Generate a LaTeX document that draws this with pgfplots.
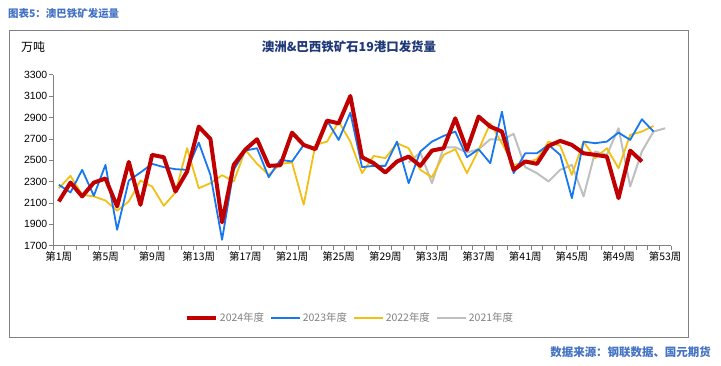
\documentclass[border=0pt]{standalone}
\usepackage{fontspec}
\setmainfont{Liberation Sans}
\newfontfamily\cjk{Noto Sans CJK SC}
\usepackage{pgfplots}
\pgfplotsset{compat=1.18}
\definecolor{c24}{RGB}{192,0,0}
\definecolor{c23}{RGB}{23,119,240}
\definecolor{c22}{RGB}{242,192,20}
\definecolor{c21}{RGB}{191,191,191}
\definecolor{ttl}{RGB}{68,114,196}
\definecolor{navy}{RGB}{31,56,120}
\definecolor{axgray}{RGB}{128,128,128}
\begin{document}
\begin{tikzpicture}
\path[use as bounding box] (0,0) rectangle (721bp,-366bp);
\draw[axgray, line width=1bp] (9bp,-30bp) rectangle (688bp,-337bp);
\node[anchor=west, text=ttl, font=\cjk\bfseries\fontsize{10.5}{12}\selectfont, inner sep=0] at (8bp,-14bp) {图表5：澳巴铁矿发运量};
\node[anchor=west, text=black, font=\cjk\fontsize{12}{14}\selectfont, inner sep=0] at (21bp,-47bp) {万吨};
\node[anchor=center, text=navy, font=\cjk\bfseries\fontsize{12.5}{14}\selectfont, inner sep=0] at (349bp,-47bp) {澳洲\&巴西铁矿石19港口发货量};
\node[anchor=east, text=ttl, font=\cjk\bfseries\fontsize{11.5}{13}\selectfont, inner sep=0] at (711bp,-352bp) {数据来源：钢联数据、国元期货};
\begin{axis}[
  at={(53bp,-245.7bp)}, anchor=south west,
  scale only axis, width=618bp, height=171bp,
  xmin=0.5, xmax=53.5, ymin=1700, ymax=3300,
  axis x line=bottom, axis y line=left,
  axis line style={-, axgray, line width=0.8bp},
  tick align=outside,
  major tick length=4bp, minor tick length=4bp,
  ytick={1700,1900,...,3300},
  xtick={1,5,...,53},
  xticklabels={第1周,第5周,第9周,第13周,第17周,第21周,第25周,第29周,第33周,第37周,第41周,第45周,第49周,第53周},
  minor xtick={0.5,1.5,...,53.5},
  major x tick style={draw=none},
  minor x tick style={axgray, line width=0.6bp},
  major y tick style={axgray, line width=0.6bp},
  /pgf/number format/assume math mode=true,
  /pgf/number format/1000 sep={},
  yticklabel style={font=\fontsize{10.5}{12}\selectfont, inner sep=1.5bp},
  xticklabel style={font=\cjk\fontsize{10.5}{12}\selectfont, inner sep=1.5bp},
  reverse legend,
  legend style={at={(0.4806,-0.4228)}, anchor=center, draw=none, fill=none,
    legend columns=4, font=\cjk\fontsize{10.5}{12}\selectfont, text=axgray,
    /tikz/every even column/.append style={column sep=4bp}},
  legend image code/.code={\draw[#1] (0bp,0bp) -- (29bp,0bp);},
  no marks, line join=round,
]
\addplot[c21, line width=2bp] table {
31 2478
32 2572
33 2285
34 2621
35 2621
36 2572
37 2603
38 2696
39 2690
40 2746
41 2435
42 2379
43 2301
44 2410
45 2456
46 2161
47 2581
48 2550
49 2799
50 2254
51 2581
52 2768
53 2799
};
\addlegendentry{2021年度}
\addplot[c22, line width=1.8bp] table {
1 2238
2 2354
3 2176
4 2161
5 2123
6 2027
7 2114
8 2310
9 2254
10 2073
11 2198
12 2612
13 2238
14 2285
15 2360
16 2301
17 2596
18 2466
19 2363
20 2466
21 2478
22 2083
23 2643
24 2674
25 2861
26 2674
27 2379
28 2540
29 2519
30 2659
31 2612
32 2410
33 2341
34 2550
35 2603
36 2379
37 2596
38 2845
39 2659
40 2456
41 2478
42 2509
43 2674
44 2634
45 2363
46 2674
47 2519
48 2612
49 2425
50 2737
51 2768
52 2821
};
\addlegendentry{2022年度}
\addplot[c23, line width=1.8bp] table {
1 2270
2 2198
3 2410
4 2167
5 2456
6 1849
7 2310
8 2385
9 2466
10 2435
11 2416
12 2410
13 2665
14 2363
15 1756
16 2410
17 2590
18 2612
19 2341
20 2503
21 2488
22 2643
23 2612
24 2870
25 2690
26 2945
27 2435
28 2447
29 2447
30 2674
31 2285
32 2581
33 2674
34 2727
35 2768
36 2528
37 2603
38 2472
39 2954
40 2379
41 2565
42 2565
43 2643
44 2550
45 2145
46 2674
47 2659
48 2674
49 2758
50 2690
51 2883
52 2768
};
\addlegendentry{2023年度}
\addplot[c24, line width=4bp] table {
1 2114
2 2291
3 2161
4 2290
5 2329
6 2067
7 2484
8 2083
9 2550
10 2528
11 2207
12 2394
13 2814
14 2699
15 1918
16 2456
17 2600
18 2696
19 2447
20 2453
21 2758
22 2643
23 2603
24 2870
25 2845
26 3101
27 2528
28 2472
29 2385
30 2488
31 2534
32 2447
33 2590
34 2612
35 2892
36 2596
37 2908
38 2814
39 2768
40 2410
41 2488
42 2466
43 2634
44 2681
45 2643
46 2565
47 2550
48 2534
49 2145
50 2590
51 2488
};
\addlegendentry{2024年度}
\end{axis}
\end{tikzpicture}
\end{document}
